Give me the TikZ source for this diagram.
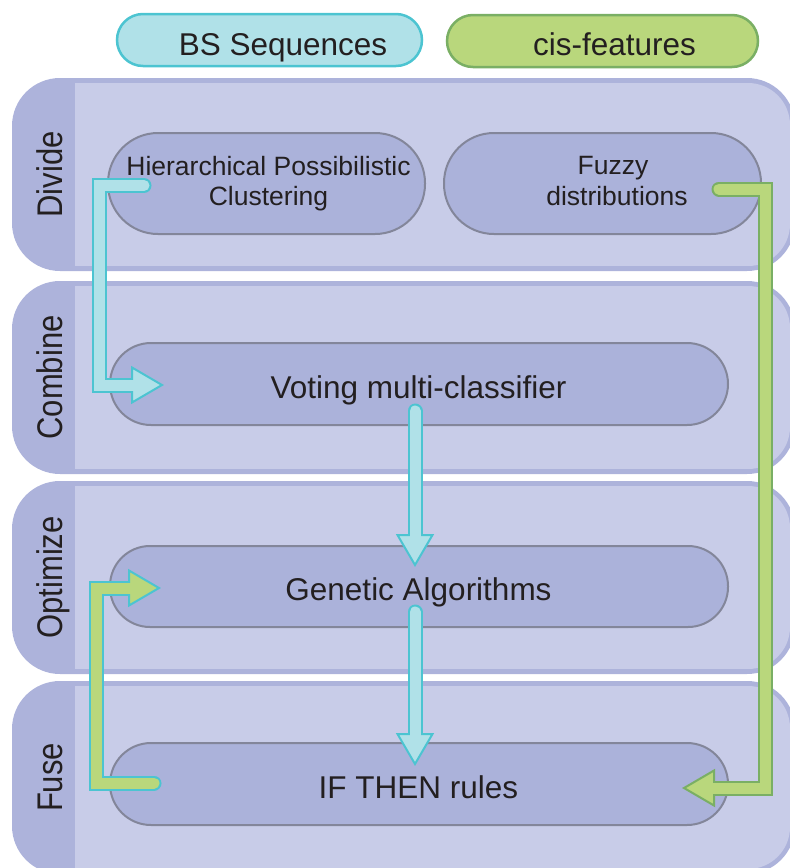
\documentclass[tikz,border=0pt]{standalone}
\usepackage{fontspec}
\setmainfont{Liberation Sans}
\usetikzlibrary{calc}
\definecolor{bandDark}{HTML}{ADB3DB}
\definecolor{bandLight}{HTML}{C8CCE8}
\definecolor{pillFill}{HTML}{ABB2DA}
\definecolor{pillBorder}{HTML}{83869A}
\definecolor{cyanFill}{HTML}{B0E1E8}
\definecolor{cyanBorder}{HTML}{4CC4D1}
\definecolor{greenFill}{HTML}{B9D77C}
\definecolor{greenBorder}{HTML}{7AAF64}
\definecolor{txt}{HTML}{231F20}
\tikzset{
  pill/.style={draw=pillBorder, fill=pillFill, line width=2pt, inner sep=0pt},
  txtbig/.style={text=txt, inner sep=0pt, anchor=base, font=\fontsize{31.5}{37}\selectfont},
  txtmid/.style={text=txt, inner sep=0pt, anchor=base, font=\fontsize{26.5}{31}\selectfont},
  bandlabel/.style={text=txt, inner sep=0pt, anchor=base, rotate=90, yscale=1.15, font=\fontsize{31}{37}\selectfont},
}
\newcommand\bandbox[3]{%
  \fill[bandDark, rounded corners=48pt] (12,#1) rectangle (795,#1+193);
  \begin{scope}
    \clip[rounded corners=42pt] (20,#1+5) rectangle (790,#1+188);
    \fill[bandLight] (75,#1+5) rectangle (790,#1+188);
  \end{scope}
  \node[bandlabel] (#3) at (62,#1+96.5) {#2};
}
% #1 fill, #2 border, #3 path up to head base, #4 head base, #5 tip
\newcommand\blockarrow[5]{%
  \draw[#2, line width=15pt, line cap=round, line join=miter] #3 -- (#4);
  \filldraw[fill=#1, draw=#2, line width=2pt, line join=miter]
    ($(#4)!17.5pt!90:(#5)$) -- (#5) -- ($(#4)!17.5pt!-90:(#5)$) -- cycle;
  \draw[#1, line width=11pt, line cap=round, line join=miter] #3 -- ($(#4)!3pt!(#5)$);
}
\begin{document}
\begin{tikzpicture}[x=1pt, y=-1pt]
\useasboundingbox (0,0) rectangle (790,868);
\clip (0,0) rectangle (790,868);

% bands
\bandbox{78}{Divide}{lDivide}
\bandbox{281}{Combine}{lCombine}
\bandbox{481}{Optimize}{lOptimize}
\bandbox{681}{Fuse}{lFuse}

% top pills
\node[draw=cyanBorder, fill=cyanFill, line width=2.5pt, inner sep=0pt,
      minimum width=305pt, minimum height=52pt, rounded corners=26pt] (bs) at (269.5,40) {};
\node[txtbig] (bsT) at (283,55) {BS Sequences};
\node[draw=greenBorder, fill=greenFill, line width=2.5pt, inner sep=0pt,
      minimum width=311pt, minimum height=52pt, rounded corners=26pt] (cis) at (602.5,41) {};
\node[txtbig] (cisT) at (614.5,55) {cis-features};

% process pills
\node[pill, minimum width=317pt, minimum height=101pt, rounded corners=50pt] (hpc) at (266.5,183.5) {};
\node[txtmid] (hpcT1) at (268.5,175) {Hierarchical Possibilistic};
\node[txtmid] (hpcT2) at (268.5,205) {Clustering};
\node[pill, minimum width=317pt, minimum height=101pt, rounded corners=50pt] (fuzzy) at (602.5,183.5) {};
\node[txtmid] (fuzzyT1) at (613,174) {Fuzzy};
\node[txtmid] (fuzzyT2) at (617,205) {distributions};

\node[pill, minimum width=618pt, minimum height=82pt, rounded corners=41pt] (voting) at (419,384) {};
\node[txtbig] (votingT) at (418.5,398) {Voting multi-classifier};
\node[pill, minimum width=618pt, minimum height=81pt, rounded corners=40pt] (genetic) at (419,586.5) {};
\node[txtbig] (geneticT) at (418.5,600) {Genetic Algorithms};
\node[pill, minimum width=618pt, minimum height=82pt, rounded corners=41pt] (rules) at (419,784) {};
\node[txtbig] (rulesT) at (418.5,798) {IF THEN rules};

% arrow coordinates
\coordinate (a1s) at ($(hpc.west)+(37,2)$);
\coordinate (a1c1) at (99.5,185.5);
\coordinate (a1t) at ($(voting.west)+(53,1)$);
\coordinate (a1c2) at (99.5,385);
\coordinate (a1b) at ($(a1t)+(-30,0)$);

\coordinate (a2s) at ($(voting.south)+(-4,-15)$);
\coordinate (a2t) at ($(genetic.north)+(-4,20)$);
\coordinate (a2b) at ($(a2t)+(0,-30)$);

\coordinate (a3s) at ($(genetic.south)+(-4,-16)$);
\coordinate (a3t) at ($(rules.north)+(-4,22)$);
\coordinate (a3b) at ($(a3t)+(0,-30)$);

\coordinate (a4s) at ($(fuzzy.east)+(-43,5.5)$);
\coordinate (a4c1) at (765,189);
\coordinate (a4t) at ($(rules.east)+(-45,4)$);
\coordinate (a4c2) at (765,788);
\coordinate (a4b) at ($(a4t)+(30,0)$);

\coordinate (a5s) at ($(rules.west)+(45,-1)$);
\coordinate (a5c1) at (96,783);
\coordinate (a5t) at ($(genetic.west)+(50,1.5)$);
\coordinate (a5c2) at (96,588);
\coordinate (a5b) at ($(a5t)+(-30,0)$);

% arrows
\blockarrow{cyanFill}{cyanBorder}{(a1s) -- (a1c1) -- (a1c2)}{a1b}{a1t}
\blockarrow{cyanFill}{cyanBorder}{(a2s)}{a2b}{a2t}
\blockarrow{cyanFill}{cyanBorder}{(a3s)}{a3b}{a3t}
\blockarrow{greenFill}{greenBorder}{(a4s) -- (a4c1) -- (a4c2)}{a4b}{a4t}
\blockarrow{greenFill}{cyanBorder}{(a5s) -- (a5c1) -- (a5c2)}{a5b}{a5t}
\end{tikzpicture}
\end{document}
